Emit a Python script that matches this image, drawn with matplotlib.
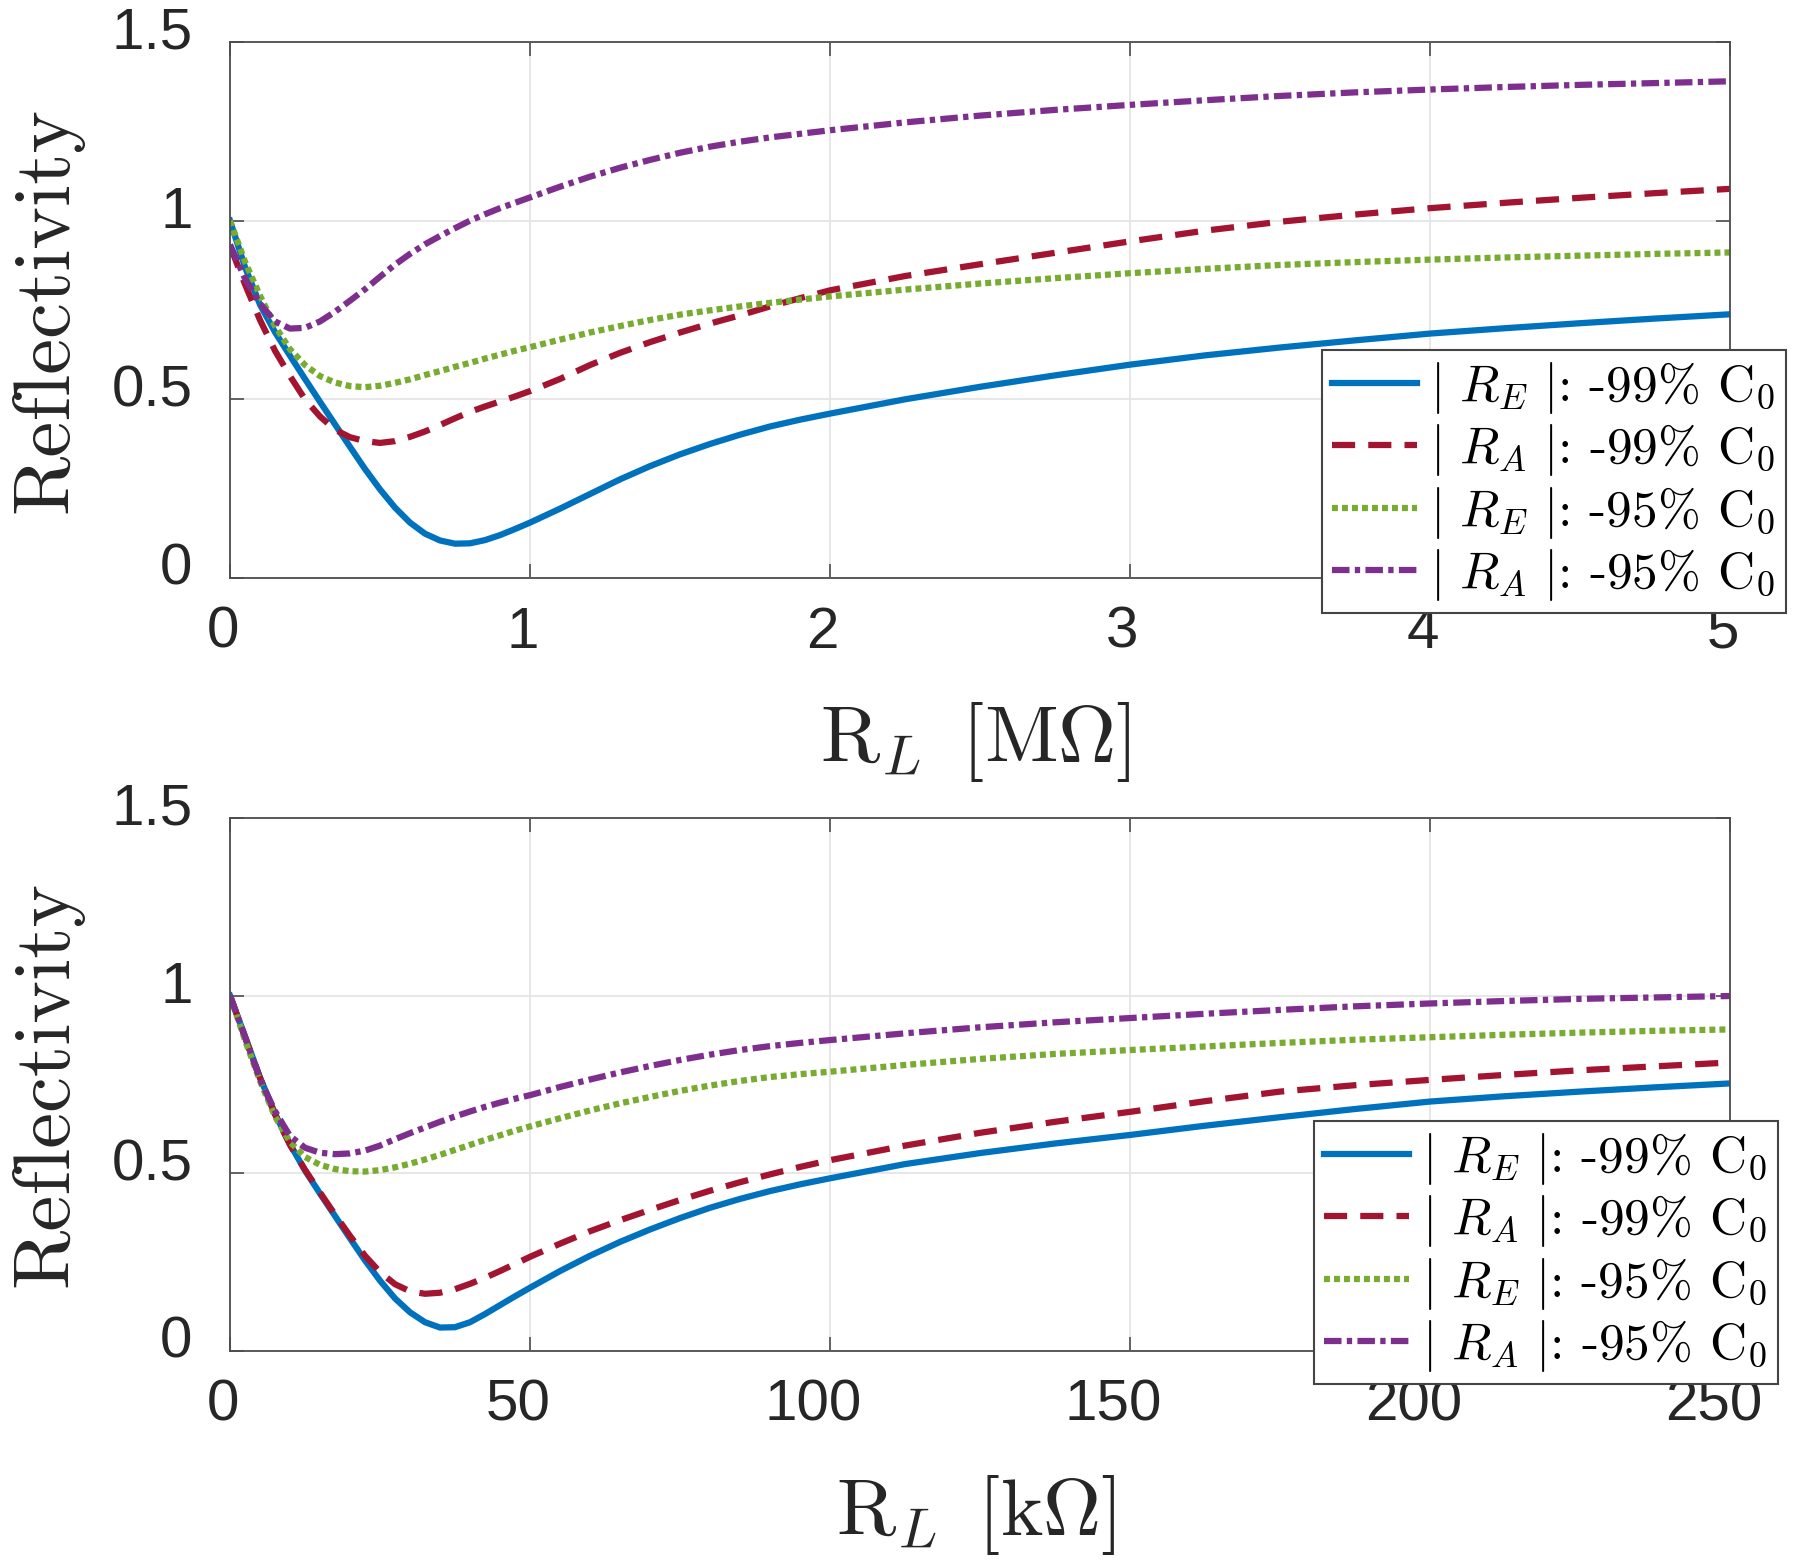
'''Reflectivity vs load resistance, two panels'''
import matplotlib
matplotlib.use('Agg')
import matplotlib.pyplot as plt
import matplotlib.transforms as mtransforms

plt.rcParams['font.family'] = 'Liberation Sans'
plt.rcParams['mathtext.fontset'] = 'cm'
plt.rcParams['axes.unicode_minus'] = False

# top panel, R_L in MOhm
X_TOP = [0, 0.05, 0.1, 0.15, 0.2, 0.25, 0.3, 0.35, 0.4, 0.45, 0.5, 0.55,
         0.6, 0.65, 0.7, 0.75, 0.8, 0.85, 0.9, 0.95, 1.0, 1.1, 1.2, 1.3,
         1.4, 1.5, 1.6, 1.7, 1.8, 1.9, 2.0, 2.25, 2.5, 2.75, 3.0, 3.25,
         3.5, 3.75, 4.0, 4.25, 4.5, 4.75, 5.0]
RE99_TOP = [1.0, 0.87, 0.765, 0.688, 0.622, 0.557, 0.493, 0.43, 0.367, 0.305,
            0.248, 0.197, 0.155, 0.124, 0.105, 0.096, 0.097, 0.106, 0.12,
            0.137, 0.155, 0.194, 0.235, 0.276, 0.313, 0.346, 0.375, 0.401,
            0.424, 0.443, 0.46, 0.5, 0.535, 0.567, 0.597, 0.623, 0.645,
            0.665, 0.684, 0.699, 0.713, 0.726, 0.738]
RA99_TOP = [0.93, 0.822, 0.722, 0.636, 0.565, 0.5, 0.452, 0.415, 0.394, 0.383,
            0.378, 0.383, 0.395, 0.41, 0.428, 0.447, 0.465, 0.48, 0.494,
            0.508, 0.523, 0.557, 0.596, 0.63, 0.66, 0.687, 0.712, 0.735,
            0.76, 0.783, 0.805, 0.845, 0.878, 0.91, 0.942, 0.972, 0.997,
            1.017, 1.035, 1.05, 1.064, 1.077, 1.089]
RE95_TOP = [1.0, 0.885, 0.79, 0.705, 0.64, 0.596, 0.565, 0.547, 0.537, 0.534,
            0.538, 0.546, 0.556, 0.568, 0.579, 0.591, 0.602, 0.614, 0.625,
            0.636, 0.646, 0.667, 0.687, 0.705, 0.722, 0.737, 0.749, 0.76,
            0.77, 0.779, 0.788, 0.807, 0.824, 0.839, 0.853, 0.865, 0.876,
            0.884, 0.891, 0.897, 0.902, 0.907, 0.911]
RA95_TOP = [0.933, 0.838, 0.768, 0.718, 0.698, 0.7, 0.718, 0.745, 0.776, 0.808,
            0.843, 0.877, 0.907, 0.934, 0.957, 0.979, 1.0, 1.018, 1.035,
            1.05, 1.065, 1.095, 1.123, 1.148, 1.17, 1.19, 1.207, 1.221,
            1.233, 1.243, 1.253, 1.275, 1.294, 1.31, 1.324, 1.337, 1.349,
            1.359, 1.367, 1.374, 1.38, 1.385, 1.39]

# bottom panel, R_L in kOhm
X_BOT = [0, 2.5, 5, 7.5, 10, 12.5, 15, 17.5, 20, 22.5, 25, 27.5, 30, 32.5,
         35, 37.5, 40, 42.5, 45, 47.5, 50, 55, 60, 65, 70, 75, 80, 85, 90,
         95, 100, 112.5, 125, 137.5, 150, 162.5, 175, 187.5, 200, 212.5,
         225, 237.5, 250]
RE99_BOT = [1.0, 0.885, 0.77, 0.668, 0.582, 0.508, 0.443, 0.38, 0.317, 0.255,
            0.198, 0.148, 0.109, 0.081, 0.066, 0.067, 0.081, 0.104, 0.129,
            0.154, 0.178, 0.225, 0.268, 0.307, 0.342, 0.374, 0.403, 0.428,
            0.45, 0.469, 0.486, 0.526, 0.557, 0.584, 0.608, 0.634, 0.658,
            0.681, 0.702, 0.717, 0.73, 0.742, 0.753]
RA99_BOT = [1.0, 0.883, 0.768, 0.666, 0.58, 0.51, 0.446, 0.384, 0.324, 0.268,
            0.222, 0.188, 0.168, 0.161, 0.164, 0.174, 0.189, 0.206, 0.225,
            0.245, 0.265, 0.302, 0.337, 0.368, 0.397, 0.425, 0.451, 0.475,
            0.497, 0.518, 0.537, 0.578, 0.614, 0.645, 0.673, 0.703, 0.73,
            0.748, 0.763, 0.777, 0.79, 0.801, 0.812]
RE95_BOT = [1.0, 0.875, 0.76, 0.66, 0.588, 0.546, 0.524, 0.512, 0.506, 0.505,
            0.509, 0.517, 0.527, 0.539, 0.552, 0.566, 0.58, 0.594, 0.607,
            0.62, 0.632, 0.655, 0.677, 0.697, 0.715, 0.732, 0.747, 0.76,
            0.771, 0.779, 0.786, 0.805, 0.822, 0.836, 0.847, 0.857, 0.867,
            0.876, 0.883, 0.89, 0.896, 0.901, 0.905]
RA95_BOT = [1.0, 0.885, 0.765, 0.675, 0.605, 0.572, 0.558, 0.554, 0.556, 0.564,
            0.578, 0.596, 0.613, 0.629, 0.645, 0.66, 0.674, 0.687, 0.699,
            0.71, 0.72, 0.743, 0.764, 0.784, 0.802, 0.819, 0.834, 0.847,
            0.858, 0.867, 0.875, 0.894, 0.911, 0.925, 0.937, 0.949, 0.96,
            0.97, 0.978, 0.985, 0.991, 0.995, 0.999]

LABELS = [r'$|\ R_E\ |$: -99% C$_0$',
          r'$|\ R_A\ |$: -99% C$_0$',
          r'$|\ R_E\ |$: -95% C$_0$',
          r'$|\ R_A\ |$: -95% C$_0$']

YTICKS = [0, 0.5, 1, 1.5]
YTICK_LABELS = ['0', '0.5', '1', '1.5']
XTICKS_TOP = [0, 1, 2, 3, 4, 5]
XTICKS_BOT = [0, 50, 100, 150, 200, 250]

STYLES = [
    dict(color='#0072BD', ls='-'),
    dict(color='#A2142F', ls=(0, (3.7, 2.1))),
    dict(color='#77AC30', ls=(0, (0.95, 0.65))),
    dict(color='#7E2F8E', ls=(0, (2.8, 0.85, 0.85, 0.85))),
]
LW = 4.5
AX_COLOR = '#4d4d4d'
TXT_COLOR = '#262626'


def draw_panel(fig, rect, x, series, xticks, xlabel, leg_anchor):
    ax = fig.add_axes(rect)
    for y, st, lab in zip(series, STYLES, LABELS):
        ax.plot(x, y, lw=LW, label=lab, solid_joinstyle='round',
                dash_joinstyle='round', **st)
    ax.set_xlim(xticks[0], xticks[-1])
    ax.set_ylim(0, 1.5)
    ax.set_xticks(xticks, labels=[str(t) for t in xticks])
    ax.set_yticks(YTICKS, labels=YTICK_LABELS)
    ax.grid(True, color='#e3e3e3', lw=1.2)
    ax.set_axisbelow(True)
    for sp in ax.spines.values():
        sp.set_color(AX_COLOR)
        sp.set_linewidth(1.3)
    ax.tick_params(direction='in', length=10, width=1.2, top=True, right=True,
                   color=AX_COLOR, labelcolor=TXT_COLOR, labelsize=42)
    ax.tick_params(axis='x', pad=20)
    ax.tick_params(axis='y', pad=27)

    # MATLAB-like offsets of tick labels
    for lbl in ax.get_yticklabels():
        off = mtransforms.ScaledTranslation(0, 14 / 100, fig.dpi_scale_trans)
        lbl.set_transform(lbl.get_transform() + off)
    for lbl in ax.get_xticklabels():
        dx = -(3 + 4.5 * len(lbl.get_text()))
        off = mtransforms.ScaledTranslation(dx / 100, 0, fig.dpi_scale_trans)
        lbl.set_transform(lbl.get_transform() + off)

    ax.set_ylabel('Reflectivity', family='cmr10', fontsize=58, color=TXT_COLOR)
    ax.yaxis.set_label_coords(-0.098, 0.5)
    ax.set_xlabel(xlabel, fontsize=58, color=TXT_COLOR)
    ax.xaxis.set_label_coords(0.497, -0.228)

    leg = ax.legend(loc='upper left', bbox_to_anchor=leg_anchor,
                    bbox_transform=fig.transFigure,
                    prop={'family': 'cmr10', 'size': 37},
                    handlelength=1.65, handletextpad=0.25, borderpad=0.2,
                    labelspacing=0.12, fancybox=False, framealpha=1,
                    edgecolor='#444444', borderaxespad=0)
    leg.get_frame().set_linewidth(1.5)
    return ax


fig = plt.figure(figsize=(18, 15.61), dpi=100)

draw_panel(fig, [0.12778, 0.62973, 0.83333, 0.34337], X_TOP,
           [RE99_TOP, RA99_TOP, RE95_TOP, RA95_TOP], XTICKS_TOP,
           r'$\mathrm{R}_L\ \, [\mathrm{M}\Omega]$', (0.7344, 0.7758))
draw_panel(fig, [0.12778, 0.13453, 0.83333, 0.34145], X_BOT,
           [RE99_BOT, RA99_BOT, RE95_BOT, RA95_BOT], XTICKS_BOT,
           r'$\mathrm{R}_L\ \, [\mathrm{k}\Omega]$', (0.730, 0.2819))

fig.savefig('out.png', dpi=100)
